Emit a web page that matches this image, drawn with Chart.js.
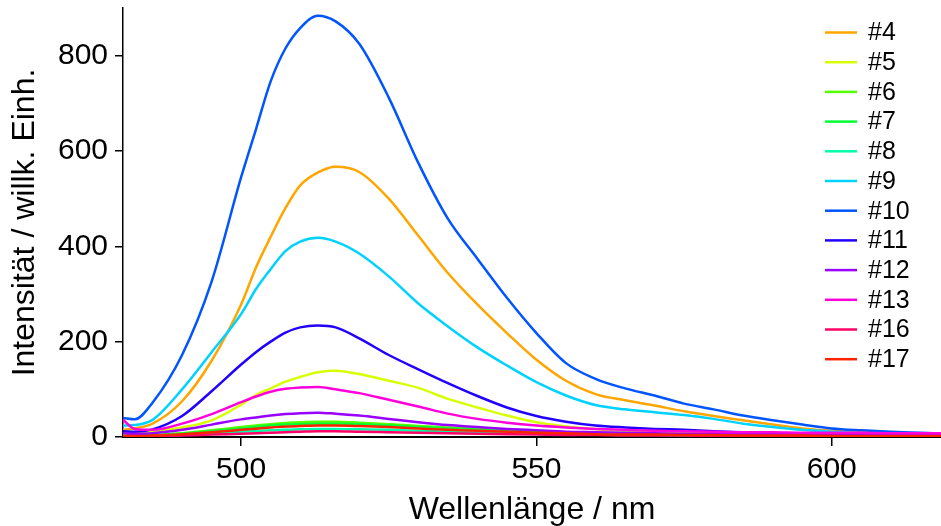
<!DOCTYPE html>
<html>
<head>
<meta charset="utf-8">
<script src="https://cdn.jsdelivr.net/npm/chart.js@4/dist/chart.umd.min.js"></script>
<style>
  html, body { margin: 0; padding: 0; background: #fff; }
  #wrap { width: 941px; height: 526px; position: relative; }
</style>
</head>
<body>
<div id="wrap"><canvas id="c"></canvas></div>
<script>
// Emission spectra: wavelength grid (nm) and intensity per sample (arb. units)
const wavelengths = [480, 482, 485, 490, 495, 500, 502.5, 505, 507.5, 510, 513, 516, 520, 525, 530, 535, 540, 545, 550, 555, 560, 565, 570, 575, 580, 585, 590, 595, 600, 605, 610, 615, 620];

const s4  = [15, 18, 28, 75, 160, 278, 355, 420, 480, 528, 555, 567, 556, 500, 422, 344, 278, 218, 162, 118, 90, 77, 66, 54, 44, 35, 26, 18, 13, 10, 7, 5, 4];
const s5  = [8, 8, 11, 20, 35, 68, 88, 102, 116, 126, 136, 139, 132, 118, 103, 80, 62, 45, 31, 22, 17, 13, 11, 9, 8, 7, 6, 5, 5, 4, 4, 3, 3];
const s6  = [2, 3, 4, 8, 14, 21, 24, 27, 29.5, 31, 32, 32, 30, 27, 23, 20, 17, 14, 12, 10, 8, 7, 6, 5, 4, 4, 3, 3, 3, 2, 2, 2, 2];
const s7  = [2, 2, 3, 7, 12, 18, 21, 24, 26, 27, 28, 28, 27, 24, 21, 18, 15, 12, 10, 9, 7, 6, 5, 5, 4, 3, 3, 3, 2, 2, 2, 2, 2];
const s8  = [1, 2, 2, 4, 7, 11, 12.5, 14, 15, 16, 17, 17, 16, 15, 13, 11, 9, 8, 7, 6, 5, 4, 4, 3, 3, 3, 2, 2, 2, 2, 2, 1, 1];
const s9  = [24, 25, 36, 100, 178, 258, 310, 352, 390, 410, 418, 410, 385, 337, 280, 232, 188, 150, 115, 87, 67, 58, 52, 46, 38, 28, 21, 15, 11, 8, 6, 5, 4];
const s10 = [40, 37, 72, 172, 326, 545, 645, 746, 815, 858, 884, 872, 825, 712, 575, 458, 374, 292, 218, 155, 122, 102, 87, 70, 58, 45, 35, 26, 18, 14, 11, 9, 7];
const s11 = [12, 11, 16, 44, 96, 152, 178, 200, 219, 230, 234, 230, 207, 172, 142, 113, 86, 62, 44, 32, 24, 20, 17, 15, 12, 10, 8, 7, 6, 5, 4, 4, 3];
const s12 = [8, 7, 8, 15, 26, 37, 41, 45, 48, 50, 51, 49, 45, 38, 31, 25, 21, 17, 14, 11, 10, 9, 8, 7, 7, 6, 6, 5, 5, 5, 4, 4, 4];
const s13 = [36, 17, 15, 28, 48, 73, 85, 95, 101, 104, 105, 100, 92, 78, 64, 49, 38, 30, 24, 20, 17, 15, 13, 12, 11, 10, 10, 9, 9, 9, 8, 8, 8];
const s16 = [1, 1, 2, 3, 5, 7, 8, 9, 10, 11, 12, 12, 11, 10, 9, 8, 7, 6, 5, 4, 4, 3, 3, 3, 2, 2, 2, 2, 2, 1, 1, 1, 1];
const s17 = [2, 2, 3, 6, 10, 15, 17.5, 20, 22, 23, 24, 24, 23, 21, 18, 15, 13, 11, 9, 8, 6, 5, 5, 4, 4, 3, 3, 3, 2, 2, 2, 2, 2];

const seriesLabels = ['#4', '#5', '#6', '#7', '#8', '#9', '#10', '#11', '#12', '#13', '#16', '#17'];
const seriesValues = [s4, s5, s6, s7, s8, s9, s10, s11, s12, s13, s16, s17];
const seriesColors = ['#FFA500', '#D8FF00', '#55FF00', '#00FF33', '#00FFAA', '#00D2FF', '#0055FF', '#2200FF', '#9900FF', '#FF00DD', '#FF0066', '#FF2200'];

const xTicks = [500, 550, 600];
const yTicks = [0, 200, 400, 600, 800];

const FONT = "'Liberation Sans', Arial, sans-serif";

const datasets = seriesValues.map((vals, i) => ({
  label: seriesLabels[i],
  data: wavelengths.map((w, k) => ({ x: w, y: vals[k] })),
  borderColor: seriesColors[i],
  backgroundColor: seriesColors[i],
  borderWidth: 2.5,
  pointRadius: 0,
  cubicInterpolationMode: 'monotone',
  fill: false,
  order: -i   // later samples are painted over earlier ones
}));

// Legend drawn inside the plot area, top right
const insideLegend = {
  id: 'insideLegend',
  afterDatasetsDraw(chart) {
    const { ctx, chartArea } = chart;
    const x0 = chartArea.right - 116;
    const x1 = chartArea.right - 84;
    const tx = chartArea.right - 73;
    ctx.save();
    ctx.font = '25px ' + FONT;
    ctx.textBaseline = 'middle';
    ctx.textAlign = 'left';
    chart.data.datasets.forEach((ds, i) => {
      const y = chartArea.top + 24.5 + i * 29.7;
      ctx.strokeStyle = ds.borderColor;
      ctx.lineWidth = 2.5;
      ctx.beginPath();
      ctx.moveTo(x0, y);
      ctx.lineTo(x1, y);
      ctx.stroke();
      ctx.fillStyle = '#000';
      ctx.fillText(ds.label, tx, y + 1);
    });
    ctx.restore();
  }
};

new Chart(document.getElementById('c'), {
  type: 'line',
  data: { datasets },
  plugins: [insideLegend],
  options: {
    responsive: true,
    maintainAspectRatio: false,
    animation: false,
    layout: { padding: { top: 8, right: 0, left: 0, bottom: 0 } },
    plugins: {
      legend: { display: false },
      tooltip: { enabled: false }
    },
    scales: {
      x: {
        type: 'linear',
        min: 480,
        max: 618.5,
        afterBuildTicks: s => { s.ticks = xTicks.map(v => ({ value: v })); },
        afterFit: s => { s.height = 89; s.paddingLeft = 0; s.paddingRight = 0; },
        border: { display: true, color: '#000', width: 2 },
        grid: { drawOnChartArea: false, drawTicks: true, tickLength: 9, color: '#000', lineWidth: 1.5 },
        ticks: { color: '#000', font: { family: FONT, size: 30 }, padding: 6, maxRotation: 0 },
        title: { display: true, text: 'Wellenlänge / nm', color: '#000', font: { family: FONT, size: 32, lineHeight: 1 }, padding: { top: 0, bottom: 0 } }
      },
      y: {
        type: 'linear',
        min: 0,
        max: 900,
        afterBuildTicks: s => { s.ticks = yTicks.map(v => ({ value: v })); },
        afterFit: s => { s.width = 123; s.paddingTop = 0; s.paddingBottom = 0; },
        border: { display: true, color: '#000', width: 1.5 },
        grid: { drawOnChartArea: false, drawTicks: true, tickLength: 8, color: '#000', lineWidth: 1.5 },
        ticks: { color: '#000', font: { family: FONT, size: 30 }, padding: 7 },
        title: { display: true, text: 'Intensität / willk. Einh.', color: '#000', font: { family: FONT, size: 32, lineHeight: 1 }, padding: { top: 9, bottom: 0 } }
      }
    }
  }
});
</script>
</body>
</html>
